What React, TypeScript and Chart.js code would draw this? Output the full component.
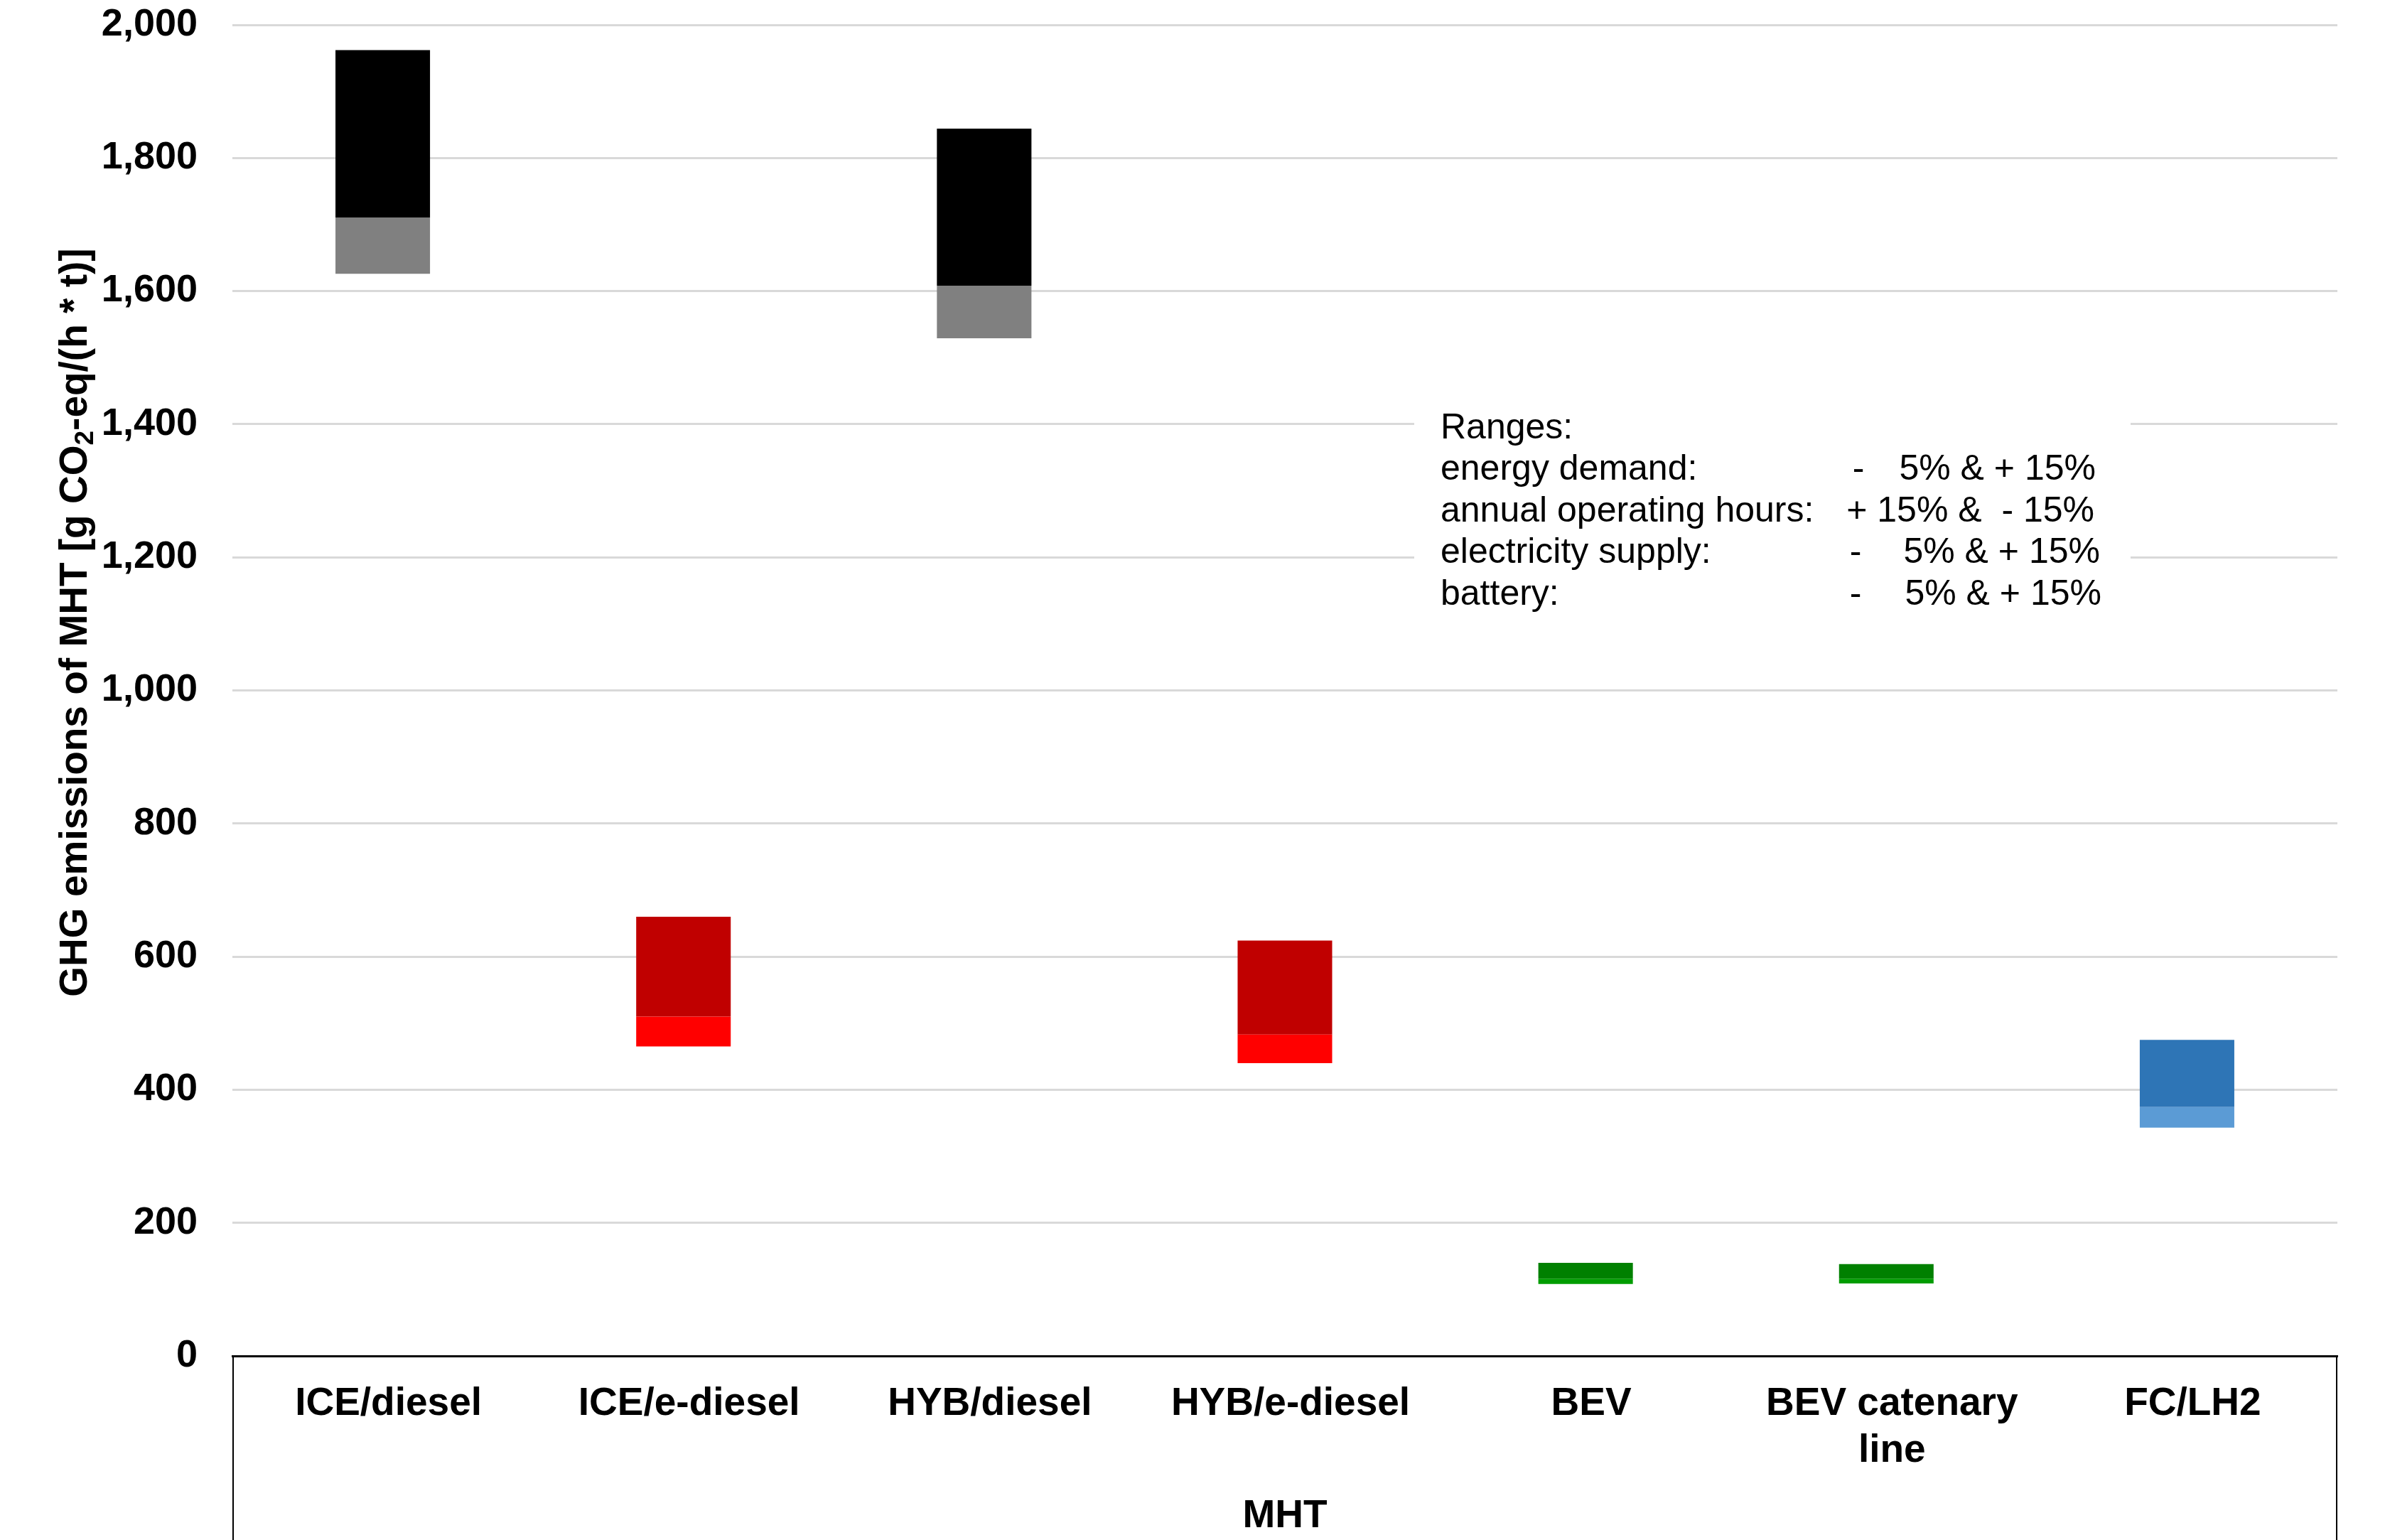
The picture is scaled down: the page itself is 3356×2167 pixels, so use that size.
import React, { useEffect, useRef } from "react";
import { Chart, registerables } from "chart.js";

Chart.register(...registerables);

// MHT variants on the x axis
const categories: (string | string[])[] = [
  "ICE/diesel",
  "ICE/e-diesel",
  "HYB/diesel",
  "HYB/e-diesel",
  "BEV",
  ["BEV catenary", "line"],
  "FC/LH2",
];

// GHG emissions range [g CO2-eq/(h*t)] : bottom, middle split, top
const rangeLow = [1626, 465, 1529, 440, 108, 109, 343];
const rangeMid = [1710, 510, 1608, 483, 116, 116, 374];
const rangeHigh = [1962, 660, 1844, 624, 140, 138, 475];

const lowerColors = ["#808080", "#FF0000", "#808080", "#FF0000", "#009C00", "#009C00", "#5B9BD5"];
const upperColors = ["#000000", "#C00000", "#000000", "#C00000", "#008000", "#008000", "#2E75B6"];

const yTicks = [0, 200, 400, 600, 800, 1000, 1200, 1400, 1600, 1800, 2000];

const noteTitle = "Ranges:";
const noteRows = [
  { label: "energy demand:", dash: "-", value: "5% & + 15%" },
  { label: "annual operating hours:", dash: "", value: "+ 15% &  - 15%" },
  { label: "electricity supply:", dash: "-", value: "5% & + 15%" },
  { label: "battery:", dash: "-", value: "5% & + 15%" },
];

const FONT = "'Liberation Sans', Arial, sans-serif";

const extrasPlugin = {
  id: "extras",
  beforeDatasetsDraw(chart: any) {
    const { ctx } = chart;
    // ranges note box (covers gridlines)
    const dashX = [2615, 0, 2611, 2611];
    const valueX = [2949, 2947, 2955, 2957];
    ctx.save();
    ctx.fillStyle = "#ffffff";
    ctx.fillRect(1990, 545, 1008, 340);
    ctx.fillStyle = "#000000";
    ctx.font = `50px ${FONT}`;
    ctx.textBaseline = "middle";
    ctx.textAlign = "left";
    ctx.fillText(noteTitle, 2027, 603);
    noteRows.forEach((r, i) => {
      const y = 603 + 58.5 * (i + 1);
      ctx.textAlign = "left";
      ctx.fillText(r.label, 2027, y);
      if (r.dash) {
        ctx.textAlign = "center";
        ctx.fillText(r.dash, dashX[i], y);
      }
      ctx.textAlign = "right";
      ctx.fillText(r.value, valueX[i], y);
    });
    ctx.restore();
  },
  afterDraw(chart: any) {
    const { ctx, chartArea } = chart;
    const h = chart.height;
    ctx.save();
    // box around category axis
    ctx.strokeStyle = "#000000";
    ctx.lineWidth = 2;
    ctx.beginPath();
    ctx.moveTo(chartArea.left + 1, chartArea.bottom);
    ctx.lineTo(chartArea.left + 1, h);
    ctx.moveTo(chartArea.right - 1, chartArea.bottom);
    ctx.lineTo(chartArea.right - 1, h);
    ctx.stroke();

    // group label
    ctx.fillStyle = "#000000";
    ctx.font = `bold 55px ${FONT}`;
    ctx.textAlign = "center";
    ctx.textBaseline = "middle";
    ctx.fillText("MHT", (chartArea.left + chartArea.right) / 2, 2134);

    // y axis title with subscript
    const parts = [
      { t: "GHG emissions of MHT [g CO", size: 55, dy: 0 },
      { t: "2", size: 37, dy: 14 },
      { t: "-eq/(h * t)]", size: 55, dy: 0 },
    ];
    let total = 0;
    parts.forEach((p) => {
      ctx.font = `bold ${p.size}px ${FONT}`;
      total += ctx.measureText(p.t).width;
    });
    ctx.translate(107, 876);
    ctx.rotate(-Math.PI / 2);
    ctx.textAlign = "left";
    ctx.textBaseline = "middle";
    let x = -total / 2;
    parts.forEach((p) => {
      ctx.font = `bold ${p.size}px ${FONT}`;
      ctx.fillText(p.t, x, p.dy);
      x += ctx.measureText(p.t).width;
    });
    ctx.restore();
  },
};

const App: React.FC = () => {
  const chartRef = useRef<HTMLCanvasElement | null>(null);

  useEffect(() => {
    document.body.style.margin = "0";
    if (!chartRef.current) return;
    const ctx = chartRef.current.getContext("2d");
    if (!ctx) return;

    Chart.defaults.font.family = FONT;
    Chart.defaults.color = "#000000";

    const chart = new Chart(ctx, {
      type: "bar",
      data: {
        labels: categories,
        datasets: [
          {
            label: "lower",
            data: rangeLow.map((v, i) => [v, rangeMid[i]]),
            backgroundColor: lowerColors,
            borderWidth: 0,
            grouped: false,
            barPercentage: 0.3144,
            categoryPercentage: 1,
          },
          {
            label: "upper",
            data: rangeMid.map((v, i) => [v, rangeHigh[i]]),
            backgroundColor: upperColors,
            borderWidth: 0,
            grouped: false,
            barPercentage: 0.3144,
            categoryPercentage: 1,
          },
        ] as any,
      },
      options: {
        animation: false,
        responsive: false,
        devicePixelRatio: 1,
        layout: { padding: { top: 35, right: 67, left: 0, bottom: 0 } },
        plugins: {
          legend: { display: false },
          tooltip: { enabled: false },
        },
        scales: {
          x: {
            grid: { display: false, drawTicks: false },
            border: { display: true, color: "#000000", width: 3 },
            ticks: {
              font: { size: 55, weight: "bold", lineHeight: 1.2 },
              color: "#000000",
              padding: 35,
              labelOffset: 8,
              autoSkip: false,
              maxRotation: 0,
            },
            afterFit: (scale: any) => {
              scale.height = 259;
            },
          },
          y: {
            min: 0,
            max: 2000,
            afterBuildTicks: (scale: any) => {
              scale.ticks = yTicks.map((v) => ({ value: v }));
            },
            grid: { color: "#D9D9D9", lineWidth: 3, drawTicks: false },
            border: { display: false },
            ticks: {
              font: { size: 54, weight: "bold" },
              color: "#000000",
              padding: 49,
              callback: (v: any) => Number(v).toLocaleString("en-US"),
            },
            afterFit: (scale: any) => {
              scale.width = 327;
              scale.paddingTop = 0;
              scale.paddingBottom = 0;
            },
          },
        },
      },
      plugins: [extrasPlugin],
    });

    return () => {
      chart.destroy();
    };
  }, []);

  return (
    <div style={{ width: "3356px", height: "2167px" }}>
      <canvas ref={chartRef} width={3356} height={2167} style={{ display: "block" }}></canvas>
    </div>
  );
};

export default App;
